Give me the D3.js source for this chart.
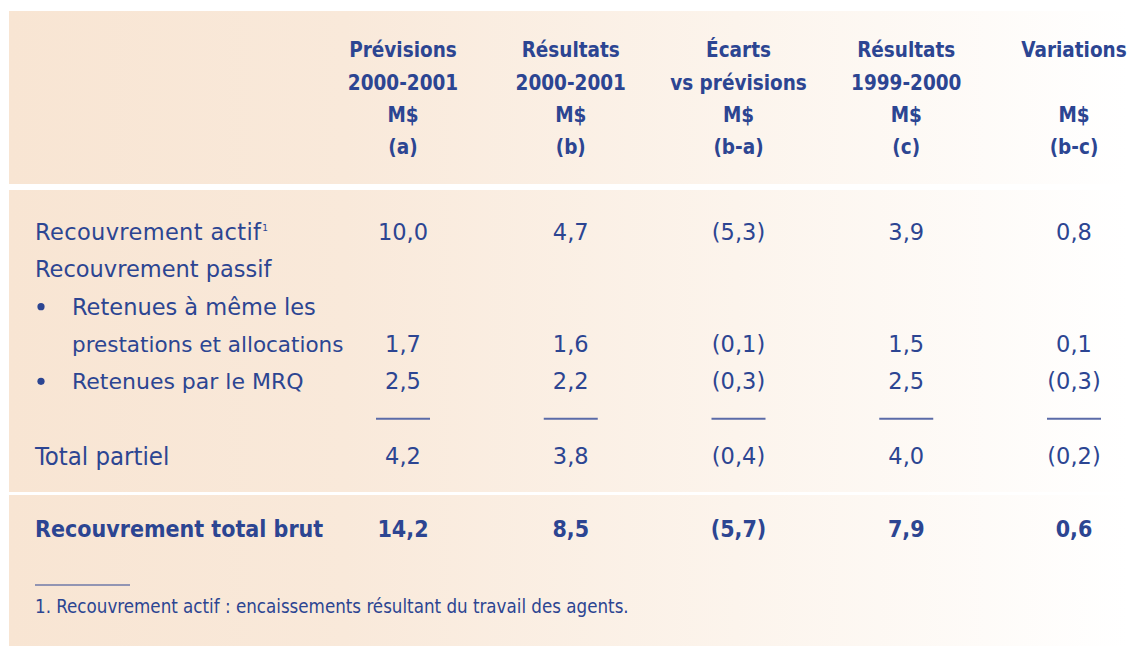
<!DOCTYPE html>
<html><head><meta charset="utf-8">
<script src="https://cdn.jsdelivr.net/npm/d3@7"></script>
<style>html,body{margin:0;padding:0;background:#fff;}svg{display:block;}</style>
</head><body>
<script>
// ---- data ----
const columnKeys = ["a", "b", "c", "d", "e"];
const headerLine1 = ["Prévisions", "Résultats", "Écarts", "Résultats", "Variations"];
const headerLine2 = ["2000-2001", "2000-2001", "vs prévisions", "1999-2000", ""];
const headerLine3 = ["M$", "M$", "M$", "M$", "M$"];
const headerLine4 = ["(a)", "(b)", "(b-a)", "(c)", "(b-c)"];
const rowLabels = ["Recouvrement actif", "Retenues à même les prestations et allocations", "Retenues par le MRQ", "Total partiel", "Recouvrement total brut"];
const previsions2001 = [10.0, 1.7, 2.5, 4.2, 14.2];
const resultats2001 = [4.7, 1.6, 2.2, 3.8, 8.5];
const ecarts = [-5.3, -0.1, -0.3, -0.4, -5.7];
const resultats2000 = [3.9, 1.5, 2.5, 4.0, 7.9];
const variations = [0.8, 0.1, -0.3, -0.2, 0.6];
const footnote = "1. Recouvrement actif : encaissements résultant du travail des agents.";

const W = 1128, H = 646;
const blue = "#2c4592";
const svg = d3.select("body").append("svg").attr("width", W).attr("height", H);

const defs = svg.append("defs");
const grad = defs.append("linearGradient").attr("id", "bg").attr("gradientUnits", "userSpaceOnUse")
  .attr("x1", 9).attr("x2", W).attr("y1", 0).attr("y2", 0);
grad.append("stop").attr("offset", 0).attr("stop-color", "#f8e5d3");
grad.append("stop").attr("offset", 0.3).attr("stop-color", "#f9e9da");
grad.append("stop").attr("offset", 0.65).attr("stop-color", "#fcf4ec");
grad.append("stop").attr("offset", 1).attr("stop-color", "#ffffff");

const panels = [[11, 184], [190, 492], [495, 646]];
svg.selectAll("rect.panel").data(panels).join("rect").attr("class", "panel")
  .attr("x", 9).attr("y", d => d[0]).attr("width", W - 9).attr("height", d => d[1] - d[0])
  .attr("fill", "url(#bg)");

const x = d3.scalePoint().domain(columnKeys).range([403, 1074]);
const fmtNum = d3.formatLocale({decimal: ",", thousands: " ", grouping: [3], currency: ["", " $"]}).format(".1f");
const fmt = v => v < 0 ? "(" + fmtNum(-v) + ")" : fmtNum(v);

// header
const headerY = d3.scalePoint().domain([0, 1, 2, 3]).range([50, 147]);
const headerLines = [headerLine1, headerLine2, headerLine3, headerLine4];
const hdr = svg.append("g").attr("font-family", "'DejaVu Sans Condensed', 'DejaVu Sans', sans-serif")
  .attr("font-weight", "bold").attr("font-size", 20.5).attr("fill", blue).attr("text-anchor", "middle");
headerLines.forEach((line, li) => {
  hdr.selectAll(null).data(line).join("text")
    .attr("x", (d, i) => x(columnKeys[i])).attr("y", headerY(li)).attr("dy", "0.36em").text(d => d);
});

// body rows grid
const slots = d3.range(7);
const rowY = d3.scalePoint().domain(slots).range([232, 456]);
const bodyFont = "'DejaVu Sans', sans-serif";
const body = svg.append("g").attr("fill", blue).attr("font-family", bodyFont).attr("font-size", 22.5);

const labelX = 35, bulletX = 41, indentX = 72;
const t0 = body.append("text").attr("x", labelX).attr("y", rowY(0)).attr("dy", "0.36em");
t0.append("tspan").attr("textLength", 226).text(rowLabels[0]);
t0.append("tspan").attr("font-size", 9).attr("dy", "-1em").attr("dx", 1).text("1");
body.append("text").attr("x", labelX).attr("y", rowY(1)).attr("dy", "0.36em").text("Recouvrement passif");
const ret = rowLabels[1].split(" ");
body.append("text").attr("x", indentX).attr("y", rowY(2)).attr("dy", "0.36em").text(ret.slice(0, 4).join(" "));
body.append("text").attr("x", indentX).attr("y", rowY(3)).attr("dy", "0.36em").attr("font-size", 21.5).text(ret.slice(4).join(" "));
body.append("text").attr("x", indentX).attr("y", rowY(4)).attr("dy", "0.36em").attr("font-size", 22).text(rowLabels[2]);
body.selectAll("circle.bullet").data([2, 4]).join("circle").attr("class", "bullet")
  .attr("cx", bulletX).attr("cy", d => rowY(d)).attr("r", 3.6).attr("fill", blue);
body.append("text").attr("x", labelX).attr("y", rowY(6)).attr("dy", "0.36em")
  .attr("font-family", "'DejaVu Sans Condensed', sans-serif").attr("font-size", 25.5).text(rowLabels[3]);

const series = [previsions2001, resultats2001, ecarts, resultats2000, variations];
const valueSlots = [0, 3, 4, 6];
series.forEach((vals, ci) => {
  body.selectAll(null).data(valueSlots).join("text")
    .attr("x", x(columnKeys[ci])).attr("y", s => rowY(s)).attr("dy", "0.36em")
    .attr("text-anchor", "middle").text((s, ri) => fmt(vals[ri]));
});
// underline rules above total partiel
body.selectAll("line.rule").data(columnKeys).join("line").attr("class", "rule")
  .attr("x1", d => x(d) - 27).attr("x2", d => x(d) + 27)
  .attr("y1", rowY(5)).attr("y2", rowY(5)).attr("stroke", "#5b6ba8").attr("stroke-width", 2);

// total row
const totY = 529;
const tot = svg.append("g").attr("fill", blue).attr("font-family", "'DejaVu Sans Condensed', sans-serif")
  .attr("font-weight", "bold").attr("font-size", 23);
tot.append("text").attr("x", labelX).attr("y", totY).attr("dy", "0.36em").text(rowLabels[4]);
series.forEach((vals, ci) => {
  tot.append("text").attr("x", x(columnKeys[ci])).attr("y", totY).attr("dy", "0.36em")
    .attr("text-anchor", "middle").text(fmt(vals[4]));
});

// footnote
svg.append("line").attr("x1", labelX).attr("x2", 130).attr("y1", 585).attr("y2", 585)
  .attr("stroke", blue).attr("stroke-width", 1.2);
svg.append("text").attr("x", labelX).attr("y", 606).attr("dy", "0.36em")
  .attr("font-family", "'DejaVu Sans Condensed', sans-serif").attr("font-size", 18.6).attr("fill", blue)
  .text(footnote);
</script>
</body></html>
